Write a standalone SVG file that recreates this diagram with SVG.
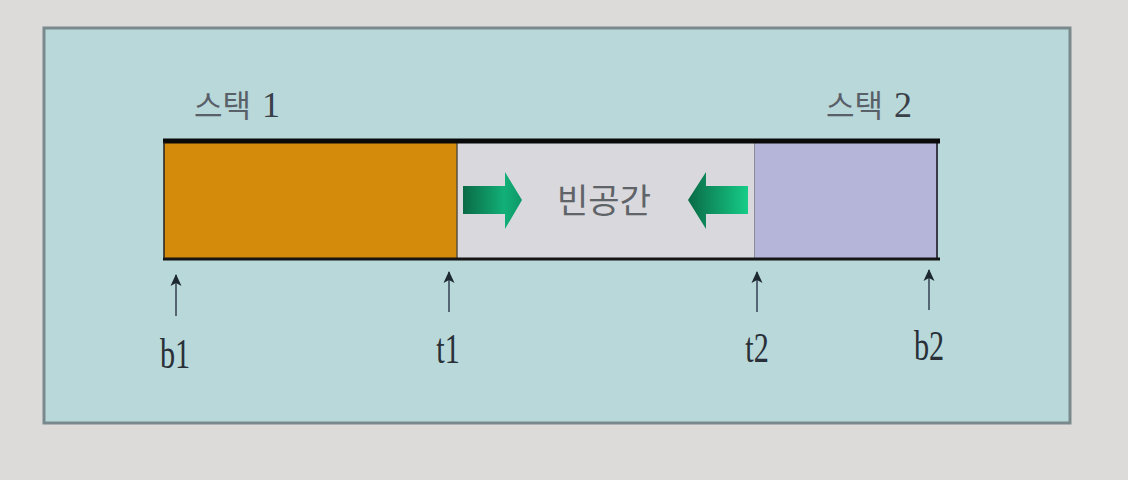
<svg xmlns="http://www.w3.org/2000/svg" width="1128" height="480" viewBox="0 0 1128 480">
<style>
.lbl{font-family:"Noto Sans CJK KR","Liberation Sans",sans-serif;font-size:31px;fill:#5a6068}
.num{font-family:"Liberation Serif",serif;font-size:36px;fill:#3a4048}
.ptr{font-family:"Liberation Serif",serif;font-size:42px;fill:#2a3038;text-anchor:middle}
.pl{stroke:#3a4a58;stroke-width:1.6;fill:none;marker-end:url(#ah)}
</style>
<defs>
<marker id="ah" viewBox="0 0 12 12" refX="11" refY="6" markerWidth="12" markerHeight="12" orient="auto" markerUnits="userSpaceOnUse">
<path d="M0,0.5 L12,6 L0,11.5 L3,6 Z" fill="#1e2830"/>
</marker>
<linearGradient id="gR" x1="0" y1="0" x2="1" y2="0">
<stop offset="0" stop-color="#0a6a46"/><stop offset="0.7" stop-color="#12b078"/><stop offset="1" stop-color="#0e9868"/>
</linearGradient>
<linearGradient id="gL" x1="0" y1="0" x2="1" y2="0">
<stop offset="0" stop-color="#0a6a46"/><stop offset="1" stop-color="#16cc88"/>
</linearGradient>
</defs>
<rect width="1128" height="480" fill="#dcdbda"/>
<rect x="44" y="28" width="1026" height="395" fill="#b8d8da" stroke="#7a8a8c" stroke-width="3"/>
<g id="stack1">
<rect x="164" y="142" width="293" height="116" fill="#d48a0a"/>
<text class="lbl" x="194" y="117">스택 <tspan class="num" dx="4">1</tspan></text>
</g>
<g id="empty">
<rect x="457" y="142" width="298" height="116" fill="#d9d9dd"/>
<line x1="457" y1="142" x2="457" y2="258" stroke="#5a5040" stroke-width="1.5"/>
<line x1="755" y1="142" x2="755" y2="258" stroke="#707080" stroke-width="1.5"/>
<path d="M463,186 H505 V172 L522,200 L505,229 V214 H463 Z" fill="url(#gR)"/>
<path d="M748,186 H706 V172 L688,200 L706,229 V214 H748 Z" fill="url(#gL)"/>
<text x="604" y="213" text-anchor="middle" style="font-family:'Noto Sans CJK KR',sans-serif;font-size:34px;fill:#606468">빈공간</text>
</g>
<g id="stack2">
<rect x="755" y="142" width="182" height="116" fill="#b5b5d9"/>
<line x1="937" y1="142" x2="937" y2="258" stroke="#3a3a48" stroke-width="2"/>
<text class="lbl" x="826" y="117">스택 <tspan class="num" dx="4">2</tspan></text>
</g>
<g id="bar-lines">
<line x1="163" y1="141" x2="940" y2="141" stroke="#0a0a0a" stroke-width="5"/>
<line x1="163" y1="259" x2="940" y2="259" stroke="#151515" stroke-width="3"/>
<line x1="164" y1="142" x2="164" y2="258" stroke="#222" stroke-width="1.5"/>
</g>
<g id="connectors">
<line class="pl" x1="176" y1="316" x2="176" y2="275"/>
<line class="pl" x1="449" y1="312" x2="449" y2="272"/>
<line class="pl" x1="757" y1="312" x2="757" y2="272"/>
<line class="pl" x1="929" y1="310" x2="929" y2="270"/>
</g>
<g id="b1"><text class="ptr" transform="translate(175,368) scale(0.72,1)">b1</text></g>
<g id="t1"><text class="ptr" transform="translate(448,363) scale(0.72,1)">t1</text></g>
<g id="t2"><text class="ptr" transform="translate(757,362) scale(0.72,1)">t2</text></g>
<g id="b2"><text class="ptr" transform="translate(929,360) scale(0.72,1)">b2</text></g>
</svg>
